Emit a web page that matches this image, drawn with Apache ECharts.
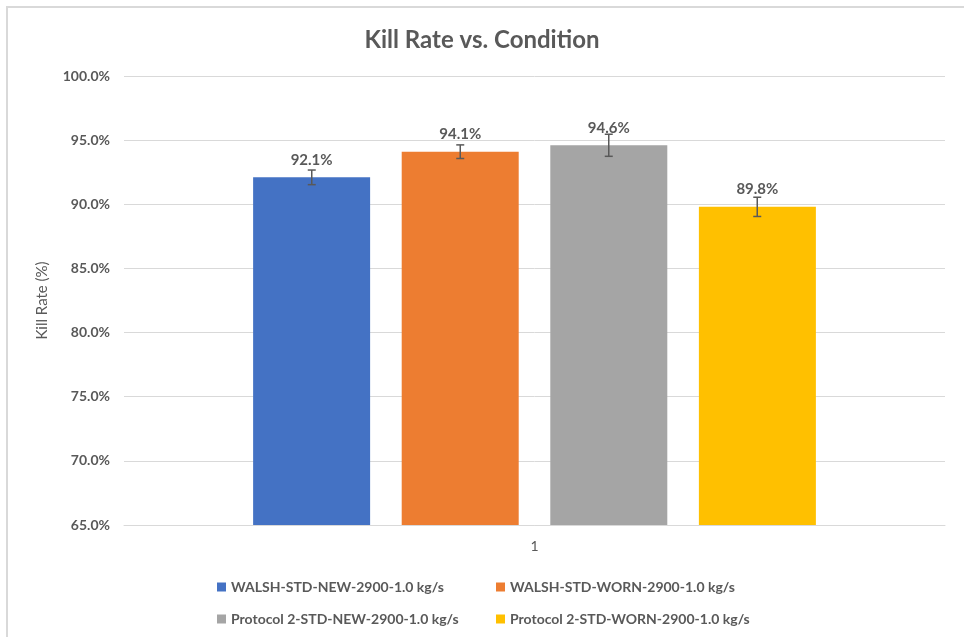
<!DOCTYPE html>
<html>
<head>
<meta charset="utf-8">
<title>Kill Rate vs. Condition</title>
<script src="https://cdn.jsdelivr.net/npm/echarts@6/dist/echarts.min.js"></script>
<style>
    body { margin: 0; background: #fff; }
    #frame { position: absolute; left: 6px; top: 6px; width: 964px; height: 637px;
             border-top: 2px solid #d9d9d9; border-left: 2px solid #d9d9d9; }
    #main { position: absolute; left: 0; top: 0; width: 964px; height: 637px; }
</style>
</head>
<body>
<div id="frame"></div>
<div id="main"></div>
<script>
// data
var categories = ["1"];
var seriesNames = ["WALSH-STD-NEW-2900-1.0 kg/s", "WALSH-STD-WORN-2900-1.0 kg/s",
    "Protocol 2-STD-NEW-2900-1.0 kg/s", "Protocol 2-STD-WORN-2900-1.0 kg/s"];
var killRate = [0.921, 0.941, 0.946, 0.898];
var errBar = [0.0057, 0.0053, 0.0086, 0.0075];
var colors = ["#4472c4", "#ed7d31", "#a5a5a5", "#ffc000"];
var yTicks = [0.65, 0.70, 0.75, 0.80, 0.85, 0.90, 0.95, 1.00];

var txt = "#595959";
var font = "Lato, 'Open Sans', sans-serif";

var myChart = echarts.init(document.getElementById("main"), null, {renderer: "canvas"});

var barW = 117;
var barGap = "27%";
// bar centre offsets inside the category (px), same as the bar layout
var offs = [-222.75, -74.25, 74.25, 222.75];

var series = [];
for (var i = 0; i < seriesNames.length; i++) {
    series.push({
        name: seriesNames[i],
        type: "bar",
        barWidth: barW,
        barGap: barGap,
        itemStyle: {color: colors[i]},
        label: {
            show: true, position: "top", distance: 10,
            formatter: function (p) { return (p.value * 100).toFixed(1) + "%"; },
            color: txt, fontWeight: "bold", fontSize: 15, fontFamily: font
        },
        data: [killRate[i]]
    });
}

// error bars
var errData = [];
for (var i = 0; i < killRate.length; i++) {
    errData.push([0, killRate[i] - errBar[i], killRate[i] + errBar[i], i]);
}
series.push({
    type: "custom",
    name: "err",
    z: 10,
    renderItem: function (params, api) {
        var lo = api.coord([api.value(0), api.value(1)]);
        var hi = api.coord([api.value(0), api.value(2)]);
        var x = lo[0] + offs[api.value(3)];
        var cap = 4;
        var st = {stroke: "#595959", lineWidth: 1.5};
        return {
            type: "group",
            children: [
                {type: "line", shape: {x1: x, y1: hi[1], x2: x, y2: lo[1]}, style: st},
                {type: "line", shape: {x1: x - cap, y1: hi[1], x2: x + cap, y2: hi[1]}, style: st},
                {type: "line", shape: {x1: x - cap, y1: lo[1], x2: x + cap, y2: lo[1]}, style: st}
            ]
        };
    },
    encode: {x: 0, y: [1, 2]},
    data: errData,
    silent: true
});

function legendAt(name, left, top) {
    return {
        data: [name], left: left, top: top, icon: "rect",
        itemWidth: 9, itemHeight: 9, itemGap: 6,
        textStyle: {color: txt, fontWeight: "bold", fontSize: 14, fontFamily: font},
        selectedMode: false
    };
}

option = {
    backgroundColor: "transparent",
    animation: false,
    title: {
        text: "Kill Rate vs. Condition",
        left: "center", top: 23,
        textStyle: {color: txt, fontWeight: "bold", fontSize: 24, fontFamily: font}
    },
    legend: [
        legendAt(seriesNames[0], 212, 575),
        legendAt(seriesNames[1], 491, 575),
        legendAt(seriesNames[2], 212, 607),
        legendAt(seriesNames[3], 491, 607)
    ],
    grid: {left: 124, right: 19, top: 76, bottom: 112},
    xAxis: {
        type: "category",
        data: categories,
        axisLine: {lineStyle: {color: "#d9d9d9", width: 1}},
        axisTick: {show: false},
        axisLabel: {color: txt, fontSize: 14, fontFamily: font, margin: 14}
    },
    yAxis: {
        type: "value",
        min: yTicks[0],
        max: yTicks[yTicks.length - 1],
        interval: 0.05,
        name: "Kill Rate (%)",
        nameLocation: "middle",
        nameGap: 74,
        nameTextStyle: {color: txt, fontSize: 15, fontFamily: font},
        axisLine: {show: false},
        axisTick: {show: false},
        splitLine: {lineStyle: {color: "#d9d9d9", width: 1}},
        axisLabel: {
            color: txt, fontWeight: "bold", fontSize: 14, fontFamily: font, margin: 14,
            formatter: function (v) { return (v * 100).toFixed(1) + "%"; }
        }
    },
    series: series
};
myChart.setOption(option);
</script>
</body>
</html>
